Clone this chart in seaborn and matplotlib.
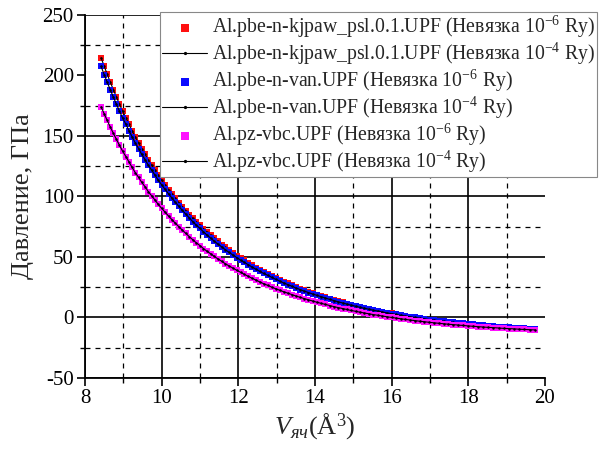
import matplotlib
matplotlib.use('Agg')
import matplotlib.pyplot as plt
import seaborn as sns
from matplotlib.ticker import MultipleLocator

# cell volume, A^3
volume = [8.42, 8.50, 8.58, 8.66, 8.74, 8.82, 8.90, 8.98, 9.07, 9.15,
          9.23, 9.31, 9.40, 9.48, 9.57, 9.65, 9.74, 9.83, 9.91, 10.00,
          10.09, 10.18, 10.27, 10.36, 10.45, 10.54, 10.63, 10.72, 10.81, 10.90,
          11.00, 11.09, 11.18, 11.28, 11.37, 11.47, 11.57, 11.66, 11.76, 11.86,
          11.96, 12.06, 12.16, 12.26, 12.36, 12.46, 12.56, 12.66, 12.77, 12.87,
          12.97, 13.08, 13.18, 13.29, 13.40, 13.50, 13.61, 13.72, 13.83, 13.94,
          14.05, 14.16, 14.27, 14.38, 14.49, 14.60, 14.72, 14.83, 14.94, 15.06,
          15.17, 15.29, 15.41, 15.52, 15.64, 15.76, 15.88, 16.00, 16.12, 16.24,
          16.36, 16.48, 16.61, 16.73, 16.85, 16.98, 17.10, 17.23, 17.36, 17.48,
          17.61, 17.74, 17.87, 18.00, 18.13, 18.26, 18.39, 18.52, 18.65, 18.79,
          18.92, 19.06, 19.19, 19.33, 19.46, 19.60, 19.74]

# pressure, GPa
p_kjpaw = [214.6, 207.7, 201.0, 194.5, 188.3, 182.2, 176.3, 170.6, 165.0, 159.6,
           154.3, 149.2, 144.2, 139.4, 134.8, 130.2, 125.8, 121.5, 117.4, 113.4,
           109.5, 105.7, 102.0, 98.4, 94.9, 91.5, 88.3, 85.1, 82.0, 79.0,
           76.1, 73.3, 70.5, 67.9, 65.3, 62.8, 60.3, 57.9, 55.6, 53.4,
           51.2, 49.1, 47.1, 45.1, 43.1, 41.2, 39.4, 37.7, 36.0, 34.3,
           32.7, 31.1, 29.6, 28.1, 26.7, 25.3, 23.9, 22.6, 21.3, 20.1,
           18.9, 17.7, 16.6, 15.5, 14.5, 13.4, 12.4, 11.4, 10.5, 9.6,
           8.7, 7.8, 7.0, 6.2, 5.4, 4.7, 4.0, 3.3, 2.6, 1.9,
           1.2, 0.6, 0.0, -0.6, -1.2, -1.7, -2.2, -2.8, -3.3, -3.8,
           -4.2, -4.7, -5.1, -5.5, -5.9, -6.3, -6.7, -7.1, -7.4, -7.8,
           -8.1, -8.4, -8.7, -9.0, -9.3, -9.6, -9.9]
p_van = [207.5, 200.8, 194.4, 188.2, 182.1, 176.2, 170.5, 164.9, 159.5, 154.3,
         149.2, 144.3, 139.5, 134.8, 130.3, 125.9, 121.7, 117.5, 113.5, 109.6,
         105.9, 102.2, 98.6, 95.1, 91.8, 88.5, 85.4, 82.3, 79.3, 76.4,
         73.6, 70.8, 68.2, 65.6, 63.1, 60.6, 58.3, 56.0, 53.8, 51.6,
         49.5, 47.4, 45.5, 43.6, 41.7, 39.9, 38.1, 36.4, 34.8, 33.2,
         31.6, 30.1, 28.6, 27.2, 25.8, 24.4, 23.1, 21.8, 20.6, 19.4,
         18.3, 17.2, 16.1, 15.0, 14.0, 13.0, 12.0, 11.1, 10.2, 9.3,
         8.4, 7.6, 6.8, 6.0, 5.3, 4.5, 3.8, 3.1, 2.5, 1.8,
         1.2, 0.6, 0.0, -0.6, -1.1, -1.7, -2.2, -2.7, -3.1, -3.6,
         -4.1, -4.5, -4.9, -5.3, -5.7, -6.1, -6.5, -6.9, -7.2, -7.5,
         -7.8, -8.1, -8.4, -8.7, -9.0, -9.3, -9.5]
p_pz = [174.1, 168.4, 162.8, 157.4, 152.2, 147.2, 142.3, 137.5, 132.9, 128.4,
        124.0, 119.8, 115.7, 111.7, 107.9, 104.1, 100.5, 96.9, 93.5, 90.2,
        87.0, 83.8, 80.8, 77.8, 75.0, 72.2, 69.5, 66.8, 64.3, 61.8,
        59.4, 57.0, 54.8, 52.6, 50.5, 48.4, 46.4, 44.4, 42.6, 40.8,
        39.0, 37.3, 35.6, 34.0, 32.4, 30.9, 29.4, 27.9, 26.5, 25.1,
        23.8, 22.5, 21.3, 20.1, 18.9, 17.8, 16.7, 15.6, 14.6, 13.6,
        12.6, 11.7, 10.8, 9.9, 9.0, 8.2, 7.4, 6.6, 5.8, 5.1,
        4.4, 3.7, 3.0, 2.4, 1.8, 1.2, 0.6, 0.0, -0.5, -1.1,
        -1.6, -2.1, -2.6, -3.1, -3.5, -4.0, -4.4, -4.8, -5.2, -5.6,
        -5.9, -6.3, -6.6, -7.0, -7.3, -7.6, -7.9, -8.2, -8.4, -8.7,
        -9.0, -9.2, -9.4, -9.7, -9.9, -10.1, -10.3]

labels = [
    'Al.pbe-n-kjpaw_psl.0.1.UPF (Невязка 10$^{-6}$ Ry)',
    'Al.pbe-n-kjpaw_psl.0.1.UPF (Невязка 10$^{-4}$ Ry)',
    'Al.pbe-n-van.UPF (Невязка 10$^{-6}$ Ry)',
    'Al.pbe-n-van.UPF (Невязка 10$^{-4}$ Ry)',
    'Al.pz-vbc.UPF (Невязка 10$^{-6}$ Ry)',
    'Al.pz-vbc.UPF (Невязка 10$^{-4}$ Ry)',
]
colors = ['#ff1010', '#0a0aff', '#ff10ff']

sns.set_style('ticks')
plt.rcParams['font.family'] = ['Liberation Serif', 'DejaVu Serif']
plt.rcParams['mathtext.fontset'] = 'custom'
plt.rcParams['mathtext.rm'] = 'Liberation Serif'
plt.rcParams['mathtext.it'] = 'Liberation Serif:italic'
plt.rcParams['axes.unicode_minus'] = False

fig = plt.figure(figsize=(6.04, 4.51), dpi=100)
ax = fig.add_axes([0.1407, 0.1619, 0.7616, 0.8049])

series = [p_kjpaw, p_van, p_pz]
for i, p in enumerate(series):
    sns.scatterplot(x=volume, y=p, marker='s', color=colors[i], s=16,
                    linewidth=0, label=labels[2 * i], ax=ax, zorder=3)
    sns.lineplot(x=volume, y=p, color='black', lw=0.8, marker='o',
                 markersize=1.8, markeredgewidth=0, label=labels[2 * i + 1],
                 ax=ax, zorder=3, sort=False)

ax.set_xlim(8, 20)
ax.set_ylim(-50, 250)
ax.xaxis.set_major_locator(MultipleLocator(2))
ax.xaxis.set_minor_locator(MultipleLocator(1))
ax.yaxis.set_major_locator(MultipleLocator(50))
ax.yaxis.set_minor_locator(MultipleLocator(25))

ax.set_axisbelow(True)
ax.grid(which='major', color='black', lw=1.2, ls='-')
ax.grid(which='minor', color='black', lw=0.9, ls=(0, (4, 4)))
for t in ax.yaxis.get_major_ticks():
    if abs(t.get_loc() - 250) < 1e-6:
        t.gridline.set_visible(False)
for t in ax.xaxis.get_major_ticks():
    if abs(t.get_loc() - 20) < 1e-6:
        t.gridline.set_visible(False)

for s in ['top', 'right']:
    ax.spines[s].set_visible(False)
for s in ['left', 'bottom']:
    ax.spines[s].set_color('black')
    ax.spines[s].set_linewidth(1.3)

ax.tick_params(which='major', direction='out', length=6, width=1.2,
               labelsize=15, colors='black', pad=2)
ax.tick_params(which='minor', direction='out', length=3.5, width=1.0,
               colors='black')

ax.set_ylabel('Давление, ГПа', fontsize=19, labelpad=6)
ax.set_xlabel(r'$V_{яч}$(Å$^3$)', fontsize=19, labelpad=2)

handles, labs = ax.get_legend_handles_labels()
leg = ax.legend(handles, labs, loc='upper left',
                bbox_to_anchor=(160 / 604, 1 - 12 / 451),
                bbox_transform=fig.transFigure, frameon=True, fancybox=False,
                edgecolor='#888888', framealpha=1, fontsize=14.2,
                handlelength=2.3, handletextpad=0.25, borderpad=0.1,
                labelspacing=0.04, borderaxespad=0, markerscale=1.3)
leg.get_frame().set_linewidth(0.8)
leg.set_zorder(10)

fig.savefig('out.png', dpi=100)
